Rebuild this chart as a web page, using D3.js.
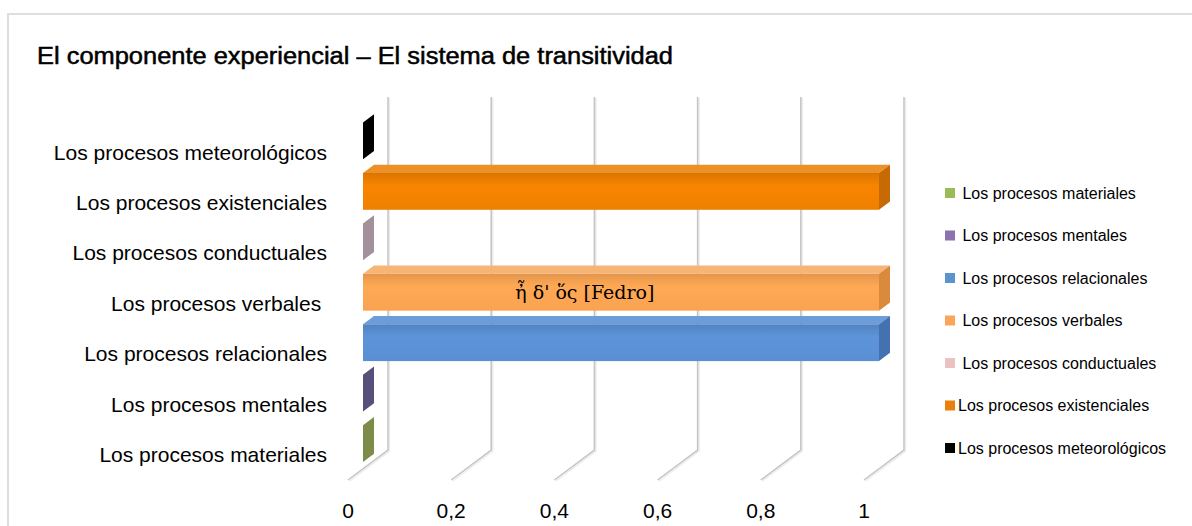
<!DOCTYPE html>
<html lang="es">
<head>
<meta charset="utf-8">
<script src="https://d3js.org/d3.v7.min.js"></script>
<style>
  body { margin: 0; background: #fff; }
  text { font-family: "Liberation Sans", Arial, sans-serif; fill: #000; }
  .grid { fill: none; stroke: #c4c4c4; stroke-width: 1.5px; }
  .grid-shadow { fill: none; stroke: #ececec; stroke-width: 1.5px; }
</style>
</head>
<body>
<script>
// categories, bottom to top
const categories = [
  "Los procesos materiales",
  "Los procesos mentales",
  "Los procesos relacionales",
  "Los procesos verbales\u00a0",
  "Los procesos conductuales",
  "Los procesos existenciales",
  "Los procesos meteorológicos"
];
const seriesNames = [
  "\u00a0Los procesos materiales",
  "\u00a0Los procesos mentales",
  "\u00a0Los procesos relacionales",
  "\u00a0Los procesos verbales",
  "\u00a0Los procesos conductuales",
  "Los procesos existenciales",
  "Los procesos meteorológicos"
];
const values = [0, 0, 1, 1, 0, 1, 0];
const legendColors = ["#9bbb59", "#8b73ad", "#5b93cc", "#f9a65a", "#e9c2c1", "#e8800a", "#000000"];
const frontColors  = ["#8fa454", "#675c8c", "#5a8fd2", "#f9a352", "#b9a4ab", "#ef8000", "#000000"];
const topColors    = ["#a3b868", "#7a6ea0", "#6d9dd9", "#f6b574", "#c9b6bc", "#ec9128", "#222222"];
const sideColors   = ["#7d8c49", "#58507a", "#4472b0", "#d98a3c", "#a3909a", "#c86a04", "#000000"];
const xTicks = [0, 0.2, 0.4, 0.6, 0.8, 1];
const tickLabels = ["0", "0,2", "0,4", "0,6", "0,8", "1"];
const barNote = "ἦ δ' ὅς [Fedro]";
const barNoteAt = 0.43; // where the note sits along the verbales bar

const W = 1192, H = 526;
const svg = d3.select("body").append("svg")
  .attr("width", W).attr("height", H);

// chart border
svg.append("path")
  .attr("d", "M8," + H + "V14H" + W)
  .attr("fill", "none").attr("stroke", "#dedede").attr("stroke-width", 2);

// title
svg.append("text")
  .attr("x", 37).attr("y", 64)
  .attr("textLength", 636).attr("lengthAdjust", "spacingAndGlyphs")
  .style("font-size", "23px")
  .style("stroke", "#000").style("stroke-width", 0.5)
  .text("El componente experiencial – El sistema de transitividad");

// scales on the front plane, depth shifts points up and right
const x = d3.scaleLinear().domain([0, 1]).range([348, 864]);
const y = d3.scaleBand().domain(categories).range([480, 127])
  .paddingInner(0.27).paddingOuter(0.135);
const depthX = 40, depthY = -30;
const proj = (v, yy, z) => [x(v) + depthX * z, yy + depthY * z];
const z0 = 0.375, z1 = 0.65;

// gridlines: back wall + floor
xTicks.forEach(t => {
  const bx = x(t) + depthX;
  const line = [[bx, 127 + depthY], [bx, 480 + depthY], [x(t), 480]];
  svg.append("path").attr("class", "grid-shadow")
    .attr("d", d3.line()(line.map(p => [p[0] + 1.5, p[1] + 1])));
  svg.append("path").attr("class", "grid").attr("d", d3.line()(line));
});

// gradients for bar fronts
const defs = svg.append("defs");
categories.forEach((c, i) => {
  const g = defs.append("linearGradient").attr("id", "g" + i)
    .attr("x1", 0).attr("y1", 0).attr("x2", 0).attr("y2", 1);
  g.append("stop").attr("offset", "0%").attr("stop-color", d3.color(frontColors[i]).darker(0.25));
  g.append("stop").attr("offset", "35%").attr("stop-color", d3.color(frontColors[i]).brighter(0.1));
  g.append("stop").attr("offset", "100%").attr("stop-color", frontColors[i]);
});

// bars
const bars = svg.append("g");
categories.forEach((c, i) => {
  const v = values[i];
  const y0 = y(c), y1 = y(c) + y.bandwidth();
  const g = bars.append("g");
  if (v > 0) {
    g.append("polygon")
      .attr("points", [proj(0, y0, z0), proj(v, y0, z0), proj(v, y0, z1), proj(0, y0, z1)].join(" "))
      .attr("fill", topColors[i]);
    const a = proj(0, y0, z0), b = proj(v, y1, z0);
    g.append("rect")
      .attr("x", a[0]).attr("y", a[1])
      .attr("width", b[0] - a[0]).attr("height", b[1] - a[1])
      .attr("fill", "url(#g" + i + ")");
  }
  g.append("polygon")
    .attr("points", [proj(v, y0, z0), proj(v, y0, z1), proj(v, y1, z1), proj(v, y1, z0)].join(" "))
    .attr("fill", sideColors[i]);
});

// label inside the verbales bar
const vi = 3;
svg.append("text")
  .attr("x", x(barNoteAt) + depthX * z0)
  .attr("y", y(categories[vi]) + y.bandwidth() / 2 + depthY * z0)
  .attr("dy", "0.35em")
  .attr("text-anchor", "middle")
  .style("font-family", "'DejaVu Serif', serif")
  .style("font-size", "19px")
  .text(barNote);

// category labels
svg.append("g").selectAll("text")
  .data(categories).join("text")
  .attr("x", 327)
  .attr("y", d => y(d) + y.bandwidth() / 2)
  .attr("dy", "0.35em")
  .attr("text-anchor", "end")
  .style("font-size", "21px")
  .text(d => d);

// tick labels
svg.append("g").selectAll("text")
  .data(xTicks).join("text")
  .attr("x", d => x(d))
  .attr("y", 518)
  .attr("text-anchor", "middle")
  .style("font-size", "21px")
  .text((d, i) => tickLabels[i]);

// legend
const legend = svg.append("g").selectAll("g")
  .data(seriesNames).join("g")
  .attr("transform", (d, i) => "translate(945," + (193 + i * 42.5) + ")");
legend.append("rect")
  .attr("x", 0).attr("y", -5).attr("width", 10).attr("height", 10)
  .attr("fill", (d, i) => legendColors[i]);
legend.append("text")
  .attr("x", 13).attr("dy", "0.35em")
  .style("font-size", "16px")
  .style("white-space", "pre")
  .text(d => d);
</script>
</body>
</html>
